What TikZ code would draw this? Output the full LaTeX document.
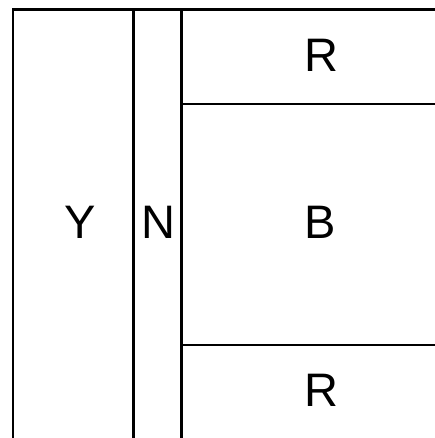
\documentclass[tikz,border=0pt]{standalone}
\usepackage{fontspec}
\setmainfont{Liberation Sans}
\usepackage{tikz}

\begin{document}
\begin{tikzpicture}[
  x=1pt, y=-1pt,
  wall/.style={line width=2.5pt, line cap=rect},
  lbl/.style={font=\fontsize{47}{50}\selectfont, inner sep=0pt}
]
\useasboundingbox (0,0) rectangle (435,438);
\draw[wall] (13,438) -- (13,9.5) -- (435,9.5);
\draw[wall] (133.5,9.5) -- (133.5,438);
\draw[wall] (181.5,9.5) -- (181.5,438);
\draw[wall] (181.5,104) -- (435,104);
\draw[wall] (181.5,345) -- (435,345);
\node[lbl] (yard) at (80,222.5) {Y};
\node[lbl] (north) at (158,222.5) {N};
\node[lbl] (bay) at (320.5,222.5) {B};
\node[lbl] (roomtop) at (321.5,55) {R};
\node[lbl] (roombot) at (321.5,390.5) {R};
\end{tikzpicture}
\end{document}
